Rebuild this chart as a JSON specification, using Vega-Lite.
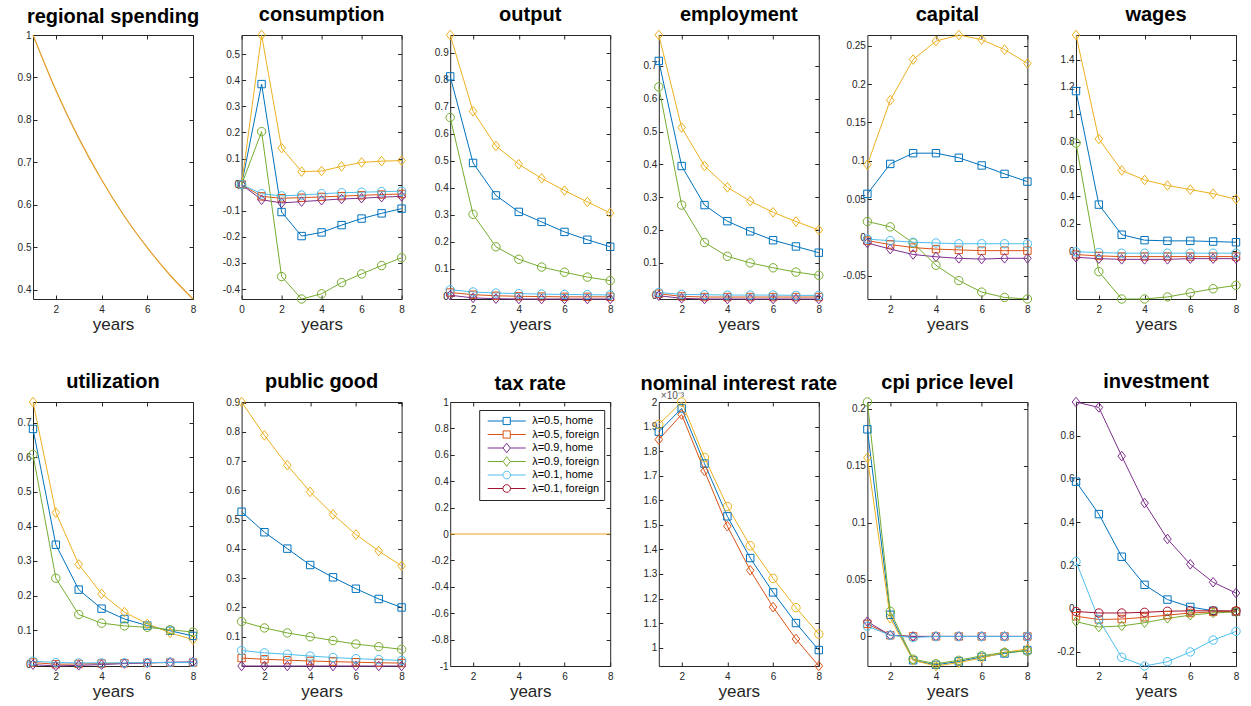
{
  "$schema": "https://vega.github.io/schema/vega-lite/v6.json",
  "background": "white",
  "padding": {"left": 16, "top": 4, "right": 5, "bottom": 5},
  "columns": 6,
  "spacing": {"row": 103, "column": 48.6},
  "bounds": "flush",
  "resolve": {"scale": {"color": "independent", "shape": "independent"}, "legend": {"color": "independent", "shape": "independent"}},
  "datasets": {
    "spending": [
      {"t": 1, "v": 1.0}, {"t": 2, "v": 0.87}, {"t": 3, "v": 0.757}, {"t": 4, "v": 0.659},
      {"t": 5, "v": 0.573}, {"t": 6, "v": 0.499}, {"t": 7, "v": 0.434}, {"t": 8, "v": 0.378}
    ],
    "consumption": [
      {"s": "λ=0.5, home", "t": 0, "v": 0}, {"s": "λ=0.5, home", "t": 1, "v": 0.385}, {"s": "λ=0.5, home", "t": 2, "v": -0.105}, {"s": "λ=0.5, home", "t": 3, "v": -0.197}, {"s": "λ=0.5, home", "t": 4, "v": -0.183}, {"s": "λ=0.5, home", "t": 5, "v": -0.155}, {"s": "λ=0.5, home", "t": 6, "v": -0.13}, {"s": "λ=0.5, home", "t": 7, "v": -0.11}, {"s": "λ=0.5, home", "t": 8, "v": -0.092},
      {"s": "λ=0.5, foreign", "t": 0, "v": 0}, {"s": "λ=0.5, foreign", "t": 1, "v": -0.045}, {"s": "λ=0.5, foreign", "t": 2, "v": -0.052}, {"s": "λ=0.5, foreign", "t": 3, "v": -0.05}, {"s": "λ=0.5, foreign", "t": 4, "v": -0.047}, {"s": "λ=0.5, foreign", "t": 5, "v": -0.044}, {"s": "λ=0.5, foreign", "t": 6, "v": -0.041}, {"s": "λ=0.5, foreign", "t": 7, "v": -0.038}, {"s": "λ=0.5, foreign", "t": 8, "v": -0.036},
      {"s": "λ=0.9, home", "t": 0, "v": 0}, {"s": "λ=0.9, home", "t": 1, "v": 0.573}, {"s": "λ=0.9, home", "t": 2, "v": 0.14}, {"s": "λ=0.9, home", "t": 3, "v": 0.05}, {"s": "λ=0.9, home", "t": 4, "v": 0.052}, {"s": "λ=0.9, home", "t": 5, "v": 0.07}, {"s": "λ=0.9, home", "t": 6, "v": 0.085}, {"s": "λ=0.9, home", "t": 7, "v": 0.09}, {"s": "λ=0.9, home", "t": 8, "v": 0.092},
      {"s": "λ=0.9, foreign", "t": 0, "v": 0}, {"s": "λ=0.9, foreign", "t": 1, "v": -0.058}, {"s": "λ=0.9, foreign", "t": 2, "v": -0.07}, {"s": "λ=0.9, foreign", "t": 3, "v": -0.065}, {"s": "λ=0.9, foreign", "t": 4, "v": -0.06}, {"s": "λ=0.9, foreign", "t": 5, "v": -0.055}, {"s": "λ=0.9, foreign", "t": 6, "v": -0.052}, {"s": "λ=0.9, foreign", "t": 7, "v": -0.048}, {"s": "λ=0.9, foreign", "t": 8, "v": -0.045},
      {"s": "λ=0.1, home", "t": 0, "v": 0}, {"s": "λ=0.1, home", "t": 1, "v": 0.203}, {"s": "λ=0.1, home", "t": 2, "v": -0.352}, {"s": "λ=0.1, home", "t": 3, "v": -0.438}, {"s": "λ=0.1, home", "t": 4, "v": -0.418}, {"s": "λ=0.1, home", "t": 5, "v": -0.375}, {"s": "λ=0.1, home", "t": 6, "v": -0.342}, {"s": "λ=0.1, home", "t": 7, "v": -0.31}, {"s": "λ=0.1, home", "t": 8, "v": -0.28},
      {"s": "λ=0.1, foreign", "t": 0, "v": 0}, {"s": "λ=0.1, foreign", "t": 1, "v": -0.035}, {"s": "λ=0.1, foreign", "t": 2, "v": -0.043}, {"s": "λ=0.1, foreign", "t": 3, "v": -0.04}, {"s": "λ=0.1, foreign", "t": 4, "v": -0.035}, {"s": "λ=0.1, foreign", "t": 5, "v": -0.031}, {"s": "λ=0.1, foreign", "t": 6, "v": -0.029}, {"s": "λ=0.1, foreign", "t": 7, "v": -0.027}, {"s": "λ=0.1, foreign", "t": 8, "v": -0.025}
    ],
    "output": [
      {"s": "λ=0.5, home", "t": 1, "v": 0.812}, {"s": "λ=0.5, home", "t": 2, "v": 0.492}, {"s": "λ=0.5, home", "t": 3, "v": 0.372}, {"s": "λ=0.5, home", "t": 4, "v": 0.311}, {"s": "λ=0.5, home", "t": 5, "v": 0.274}, {"s": "λ=0.5, home", "t": 6, "v": 0.237}, {"s": "λ=0.5, home", "t": 7, "v": 0.208}, {"s": "λ=0.5, home", "t": 8, "v": 0.182},
      {"s": "λ=0.5, foreign", "t": 1, "v": 0.013}, {"s": "λ=0.5, foreign", "t": 2, "v": 0.005}, {"s": "λ=0.5, foreign", "t": 3, "v": 0.001}, {"s": "λ=0.5, foreign", "t": 4, "v": -0.001}, {"s": "λ=0.5, foreign", "t": 5, "v": -0.002}, {"s": "λ=0.5, foreign", "t": 6, "v": -0.003}, {"s": "λ=0.5, foreign", "t": 7, "v": -0.003}, {"s": "λ=0.5, foreign", "t": 8, "v": -0.003},
      {"s": "λ=0.9, home", "t": 1, "v": 0.965}, {"s": "λ=0.9, home", "t": 2, "v": 0.683}, {"s": "λ=0.9, home", "t": 3, "v": 0.555}, {"s": "λ=0.9, home", "t": 4, "v": 0.487}, {"s": "λ=0.9, home", "t": 5, "v": 0.435}, {"s": "λ=0.9, home", "t": 6, "v": 0.39}, {"s": "λ=0.9, home", "t": 7, "v": 0.348}, {"s": "λ=0.9, home", "t": 8, "v": 0.307},
      {"s": "λ=0.9, foreign", "t": 1, "v": 0.003}, {"s": "λ=0.9, foreign", "t": 2, "v": -0.007}, {"s": "λ=0.9, foreign", "t": 3, "v": -0.01}, {"s": "λ=0.9, foreign", "t": 4, "v": -0.011}, {"s": "λ=0.9, foreign", "t": 5, "v": -0.011}, {"s": "λ=0.9, foreign", "t": 6, "v": -0.011}, {"s": "λ=0.9, foreign", "t": 7, "v": -0.011}, {"s": "λ=0.9, foreign", "t": 8, "v": -0.011},
      {"s": "λ=0.1, home", "t": 1, "v": 0.66}, {"s": "λ=0.1, home", "t": 2, "v": 0.302}, {"s": "λ=0.1, home", "t": 3, "v": 0.182}, {"s": "λ=0.1, home", "t": 4, "v": 0.136}, {"s": "λ=0.1, home", "t": 5, "v": 0.107}, {"s": "λ=0.1, home", "t": 6, "v": 0.088}, {"s": "λ=0.1, home", "t": 7, "v": 0.07}, {"s": "λ=0.1, home", "t": 8, "v": 0.057},
      {"s": "λ=0.1, foreign", "t": 1, "v": 0.023}, {"s": "λ=0.1, foreign", "t": 2, "v": 0.015}, {"s": "λ=0.1, foreign", "t": 3, "v": 0.011}, {"s": "λ=0.1, foreign", "t": 4, "v": 0.009}, {"s": "λ=0.1, foreign", "t": 5, "v": 0.007}, {"s": "λ=0.1, foreign", "t": 6, "v": 0.006}, {"s": "λ=0.1, foreign", "t": 7, "v": 0.005}, {"s": "λ=0.1, foreign", "t": 8, "v": 0.004}
    ],
    "employment": [
      {"s": "λ=0.5, home", "t": 1, "v": 0.715}, {"s": "λ=0.5, home", "t": 2, "v": 0.395}, {"s": "λ=0.5, home", "t": 3, "v": 0.276}, {"s": "λ=0.5, home", "t": 4, "v": 0.227}, {"s": "λ=0.5, home", "t": 5, "v": 0.196}, {"s": "λ=0.5, home", "t": 6, "v": 0.169}, {"s": "λ=0.5, home", "t": 7, "v": 0.15}, {"s": "λ=0.5, home", "t": 8, "v": 0.131},
      {"s": "λ=0.5, foreign", "t": 1, "v": 0.006}, {"s": "λ=0.5, foreign", "t": 2, "v": -0.002}, {"s": "λ=0.5, foreign", "t": 3, "v": -0.004}, {"s": "λ=0.5, foreign", "t": 4, "v": -0.004}, {"s": "λ=0.5, foreign", "t": 5, "v": -0.004}, {"s": "λ=0.5, foreign", "t": 6, "v": -0.004}, {"s": "λ=0.5, foreign", "t": 7, "v": -0.004}, {"s": "λ=0.5, foreign", "t": 8, "v": -0.004},
      {"s": "λ=0.9, home", "t": 1, "v": 0.794}, {"s": "λ=0.9, home", "t": 2, "v": 0.512}, {"s": "λ=0.9, home", "t": 3, "v": 0.395}, {"s": "λ=0.9, home", "t": 4, "v": 0.33}, {"s": "λ=0.9, home", "t": 5, "v": 0.288}, {"s": "λ=0.9, home", "t": 6, "v": 0.254}, {"s": "λ=0.9, home", "t": 7, "v": 0.226}, {"s": "λ=0.9, home", "t": 8, "v": 0.2},
      {"s": "λ=0.9, foreign", "t": 1, "v": 0.0}, {"s": "λ=0.9, foreign", "t": 2, "v": -0.008}, {"s": "λ=0.9, foreign", "t": 3, "v": -0.01}, {"s": "λ=0.9, foreign", "t": 4, "v": -0.01}, {"s": "λ=0.9, foreign", "t": 5, "v": -0.01}, {"s": "λ=0.9, foreign", "t": 6, "v": -0.01}, {"s": "λ=0.9, foreign", "t": 7, "v": -0.01}, {"s": "λ=0.9, foreign", "t": 8, "v": -0.01},
      {"s": "λ=0.1, home", "t": 1, "v": 0.636}, {"s": "λ=0.1, home", "t": 2, "v": 0.276}, {"s": "λ=0.1, home", "t": 3, "v": 0.162}, {"s": "λ=0.1, home", "t": 4, "v": 0.12}, {"s": "λ=0.1, home", "t": 5, "v": 0.1}, {"s": "λ=0.1, home", "t": 6, "v": 0.085}, {"s": "λ=0.1, home", "t": 7, "v": 0.072}, {"s": "λ=0.1, home", "t": 8, "v": 0.062},
      {"s": "λ=0.1, foreign", "t": 1, "v": 0.01}, {"s": "λ=0.1, foreign", "t": 2, "v": 0.004}, {"s": "λ=0.1, foreign", "t": 3, "v": 0.003}, {"s": "λ=0.1, foreign", "t": 4, "v": 0.002}, {"s": "λ=0.1, foreign", "t": 5, "v": 0.002}, {"s": "λ=0.1, foreign", "t": 6, "v": 0.002}, {"s": "λ=0.1, foreign", "t": 7, "v": 0.001}, {"s": "λ=0.1, foreign", "t": 8, "v": 0.001}
    ],
    "capital": [
      {"s": "λ=0.5, home", "t": 1, "v": 0.057}, {"s": "λ=0.5, home", "t": 2, "v": 0.096}, {"s": "λ=0.5, home", "t": 3, "v": 0.11}, {"s": "λ=0.5, home", "t": 4, "v": 0.11}, {"s": "λ=0.5, home", "t": 5, "v": 0.104}, {"s": "λ=0.5, home", "t": 6, "v": 0.094}, {"s": "λ=0.5, home", "t": 7, "v": 0.083}, {"s": "λ=0.5, home", "t": 8, "v": 0.073},
      {"s": "λ=0.5, foreign", "t": 1, "v": -0.004}, {"s": "λ=0.5, foreign", "t": 2, "v": -0.009}, {"s": "λ=0.5, foreign", "t": 3, "v": -0.013}, {"s": "λ=0.5, foreign", "t": 4, "v": -0.015}, {"s": "λ=0.5, foreign", "t": 5, "v": -0.016}, {"s": "λ=0.5, foreign", "t": 6, "v": -0.017}, {"s": "λ=0.5, foreign", "t": 7, "v": -0.017}, {"s": "λ=0.5, foreign", "t": 8, "v": -0.017},
      {"s": "λ=0.9, home", "t": 1, "v": 0.095}, {"s": "λ=0.9, home", "t": 2, "v": 0.179}, {"s": "λ=0.9, home", "t": 3, "v": 0.232}, {"s": "λ=0.9, home", "t": 4, "v": 0.256}, {"s": "λ=0.9, home", "t": 5, "v": 0.264}, {"s": "λ=0.9, home", "t": 6, "v": 0.258}, {"s": "λ=0.9, home", "t": 7, "v": 0.245}, {"s": "λ=0.9, home", "t": 8, "v": 0.227},
      {"s": "λ=0.9, foreign", "t": 1, "v": -0.007}, {"s": "λ=0.9, foreign", "t": 2, "v": -0.015}, {"s": "λ=0.9, foreign", "t": 3, "v": -0.022}, {"s": "λ=0.9, foreign", "t": 4, "v": -0.025}, {"s": "λ=0.9, foreign", "t": 5, "v": -0.027}, {"s": "λ=0.9, foreign", "t": 6, "v": -0.028}, {"s": "λ=0.9, foreign", "t": 7, "v": -0.027}, {"s": "λ=0.9, foreign", "t": 8, "v": -0.027},
      {"s": "λ=0.1, home", "t": 1, "v": 0.021}, {"s": "λ=0.1, home", "t": 2, "v": 0.014}, {"s": "λ=0.1, home", "t": 3, "v": -0.007}, {"s": "λ=0.1, home", "t": 4, "v": -0.036}, {"s": "λ=0.1, home", "t": 5, "v": -0.056}, {"s": "λ=0.1, home", "t": 6, "v": -0.071}, {"s": "λ=0.1, home", "t": 7, "v": -0.078}, {"s": "λ=0.1, home", "t": 8, "v": -0.08},
      {"s": "λ=0.1, foreign", "t": 1, "v": -0.002}, {"s": "λ=0.1, foreign", "t": 2, "v": -0.004}, {"s": "λ=0.1, foreign", "t": 3, "v": -0.006}, {"s": "λ=0.1, foreign", "t": 4, "v": -0.007}, {"s": "λ=0.1, foreign", "t": 5, "v": -0.008}, {"s": "λ=0.1, foreign", "t": 6, "v": -0.008}, {"s": "λ=0.1, foreign", "t": 7, "v": -0.008}, {"s": "λ=0.1, foreign", "t": 8, "v": -0.008}
    ],
    "wages": [
      {"s": "λ=0.5, home", "t": 1, "v": 1.17}, {"s": "λ=0.5, home", "t": 2, "v": 0.34}, {"s": "λ=0.5, home", "t": 3, "v": 0.12}, {"s": "λ=0.5, home", "t": 4, "v": 0.08}, {"s": "λ=0.5, home", "t": 5, "v": 0.075}, {"s": "λ=0.5, home", "t": 6, "v": 0.075}, {"s": "λ=0.5, home", "t": 7, "v": 0.07}, {"s": "λ=0.5, home", "t": 8, "v": 0.065},
      {"s": "λ=0.5, foreign", "t": 1, "v": -0.025}, {"s": "λ=0.5, foreign", "t": 2, "v": -0.035}, {"s": "λ=0.5, foreign", "t": 3, "v": -0.04}, {"s": "λ=0.5, foreign", "t": 4, "v": -0.04}, {"s": "λ=0.5, foreign", "t": 5, "v": -0.04}, {"s": "λ=0.5, foreign", "t": 6, "v": -0.04}, {"s": "λ=0.5, foreign", "t": 7, "v": -0.04}, {"s": "λ=0.5, foreign", "t": 8, "v": -0.04},
      {"s": "λ=0.9, home", "t": 1, "v": 1.58}, {"s": "λ=0.9, home", "t": 2, "v": 0.82}, {"s": "λ=0.9, home", "t": 3, "v": 0.59}, {"s": "λ=0.9, home", "t": 4, "v": 0.52}, {"s": "λ=0.9, home", "t": 5, "v": 0.48}, {"s": "λ=0.9, home", "t": 6, "v": 0.45}, {"s": "λ=0.9, home", "t": 7, "v": 0.42}, {"s": "λ=0.9, home", "t": 8, "v": 0.38},
      {"s": "λ=0.9, foreign", "t": 1, "v": -0.045}, {"s": "λ=0.9, foreign", "t": 2, "v": -0.055}, {"s": "λ=0.9, foreign", "t": 3, "v": -0.06}, {"s": "λ=0.9, foreign", "t": 4, "v": -0.06}, {"s": "λ=0.9, foreign", "t": 5, "v": -0.06}, {"s": "λ=0.9, foreign", "t": 6, "v": -0.055}, {"s": "λ=0.9, foreign", "t": 7, "v": -0.055}, {"s": "λ=0.9, foreign", "t": 8, "v": -0.055},
      {"s": "λ=0.1, home", "t": 1, "v": 0.79}, {"s": "λ=0.1, home", "t": 2, "v": -0.15}, {"s": "λ=0.1, home", "t": 3, "v": -0.35}, {"s": "λ=0.1, home", "t": 4, "v": -0.35}, {"s": "λ=0.1, home", "t": 5, "v": -0.335}, {"s": "λ=0.1, home", "t": 6, "v": -0.305}, {"s": "λ=0.1, home", "t": 7, "v": -0.275}, {"s": "λ=0.1, home", "t": 8, "v": -0.25},
      {"s": "λ=0.1, foreign", "t": 1, "v": -0.005}, {"s": "λ=0.1, foreign", "t": 2, "v": -0.01}, {"s": "λ=0.1, foreign", "t": 3, "v": -0.015}, {"s": "λ=0.1, foreign", "t": 4, "v": -0.015}, {"s": "λ=0.1, foreign", "t": 5, "v": -0.015}, {"s": "λ=0.1, foreign", "t": 6, "v": -0.015}, {"s": "λ=0.1, foreign", "t": 7, "v": -0.015}, {"s": "λ=0.1, foreign", "t": 8, "v": -0.015}
    ],
    "utilization": [
      {"s": "λ=0.5, home", "t": 1, "v": 0.682}, {"s": "λ=0.5, home", "t": 2, "v": 0.347}, {"s": "λ=0.5, home", "t": 3, "v": 0.217}, {"s": "λ=0.5, home", "t": 4, "v": 0.162}, {"s": "λ=0.5, home", "t": 5, "v": 0.132}, {"s": "λ=0.5, home", "t": 6, "v": 0.113}, {"s": "λ=0.5, home", "t": 7, "v": 0.098}, {"s": "λ=0.5, home", "t": 8, "v": 0.083},
      {"s": "λ=0.5, foreign", "t": 1, "v": 0.006}, {"s": "λ=0.5, foreign", "t": 2, "v": 0.001}, {"s": "λ=0.5, foreign", "t": 3, "v": 0.002}, {"s": "λ=0.5, foreign", "t": 4, "v": 0.003}, {"s": "λ=0.5, foreign", "t": 5, "v": 0.004}, {"s": "λ=0.5, foreign", "t": 6, "v": 0.005}, {"s": "λ=0.5, foreign", "t": 7, "v": 0.006}, {"s": "λ=0.5, foreign", "t": 8, "v": 0.006},
      {"s": "λ=0.9, home", "t": 1, "v": 0.76}, {"s": "λ=0.9, home", "t": 2, "v": 0.44}, {"s": "λ=0.9, home", "t": 3, "v": 0.29}, {"s": "λ=0.9, home", "t": 4, "v": 0.205}, {"s": "λ=0.9, home", "t": 5, "v": 0.152}, {"s": "λ=0.9, home", "t": 6, "v": 0.118}, {"s": "λ=0.9, home", "t": 7, "v": 0.092}, {"s": "λ=0.9, home", "t": 8, "v": 0.072},
      {"s": "λ=0.9, foreign", "t": 1, "v": 0.0}, {"s": "λ=0.9, foreign", "t": 2, "v": -0.004}, {"s": "λ=0.9, foreign", "t": 3, "v": -0.002}, {"s": "λ=0.9, foreign", "t": 4, "v": 0.0}, {"s": "λ=0.9, foreign", "t": 5, "v": 0.003}, {"s": "λ=0.9, foreign", "t": 6, "v": 0.005}, {"s": "λ=0.9, foreign", "t": 7, "v": 0.007}, {"s": "λ=0.9, foreign", "t": 8, "v": 0.008},
      {"s": "λ=0.1, home", "t": 1, "v": 0.608}, {"s": "λ=0.1, home", "t": 2, "v": 0.25}, {"s": "λ=0.1, home", "t": 3, "v": 0.145}, {"s": "λ=0.1, home", "t": 4, "v": 0.12}, {"s": "λ=0.1, home", "t": 5, "v": 0.112}, {"s": "λ=0.1, home", "t": 6, "v": 0.108}, {"s": "λ=0.1, home", "t": 7, "v": 0.101}, {"s": "λ=0.1, home", "t": 8, "v": 0.094},
      {"s": "λ=0.1, foreign", "t": 1, "v": 0.01}, {"s": "λ=0.1, foreign", "t": 2, "v": 0.006}, {"s": "λ=0.1, foreign", "t": 3, "v": 0.005}, {"s": "λ=0.1, foreign", "t": 4, "v": 0.005}, {"s": "λ=0.1, foreign", "t": 5, "v": 0.005}, {"s": "λ=0.1, foreign", "t": 6, "v": 0.006}, {"s": "λ=0.1, foreign", "t": 7, "v": 0.006}, {"s": "λ=0.1, foreign", "t": 8, "v": 0.006}
    ],
    "public": [
      {"s": "λ=0.5, home", "t": 1, "v": 0.527}, {"s": "λ=0.5, home", "t": 2, "v": 0.457}, {"s": "λ=0.5, home", "t": 3, "v": 0.401}, {"s": "λ=0.5, home", "t": 4, "v": 0.345}, {"s": "λ=0.5, home", "t": 5, "v": 0.303}, {"s": "λ=0.5, home", "t": 6, "v": 0.264}, {"s": "λ=0.5, home", "t": 7, "v": 0.229}, {"s": "λ=0.5, home", "t": 8, "v": 0.2},
      {"s": "λ=0.5, foreign", "t": 1, "v": 0.027}, {"s": "λ=0.5, foreign", "t": 2, "v": 0.023}, {"s": "λ=0.5, foreign", "t": 3, "v": 0.02}, {"s": "λ=0.5, foreign", "t": 4, "v": 0.017}, {"s": "λ=0.5, foreign", "t": 5, "v": 0.015}, {"s": "λ=0.5, foreign", "t": 6, "v": 0.013}, {"s": "λ=0.5, foreign", "t": 7, "v": 0.011}, {"s": "λ=0.5, foreign", "t": 8, "v": 0.01},
      {"s": "λ=0.9, home", "t": 1, "v": 0.902}, {"s": "λ=0.9, home", "t": 2, "v": 0.788}, {"s": "λ=0.9, home", "t": 3, "v": 0.686}, {"s": "λ=0.9, home", "t": 4, "v": 0.595}, {"s": "λ=0.9, home", "t": 5, "v": 0.518}, {"s": "λ=0.9, home", "t": 6, "v": 0.449}, {"s": "λ=0.9, home", "t": 7, "v": 0.393}, {"s": "λ=0.9, home", "t": 8, "v": 0.342},
      {"s": "λ=0.9, foreign", "t": 1, "v": 0.0}, {"s": "λ=0.9, foreign", "t": 2, "v": 0.0}, {"s": "λ=0.9, foreign", "t": 3, "v": 0.0}, {"s": "λ=0.9, foreign", "t": 4, "v": 0.0}, {"s": "λ=0.9, foreign", "t": 5, "v": 0.0}, {"s": "λ=0.9, foreign", "t": 6, "v": 0.0}, {"s": "λ=0.9, foreign", "t": 7, "v": 0.0}, {"s": "λ=0.9, foreign", "t": 8, "v": 0.0},
      {"s": "λ=0.1, home", "t": 1, "v": 0.152}, {"s": "λ=0.1, home", "t": 2, "v": 0.13}, {"s": "λ=0.1, home", "t": 3, "v": 0.113}, {"s": "λ=0.1, home", "t": 4, "v": 0.1}, {"s": "λ=0.1, home", "t": 5, "v": 0.087}, {"s": "λ=0.1, home", "t": 6, "v": 0.075}, {"s": "λ=0.1, home", "t": 7, "v": 0.066}, {"s": "λ=0.1, home", "t": 8, "v": 0.057},
      {"s": "λ=0.1, foreign", "t": 1, "v": 0.053}, {"s": "λ=0.1, foreign", "t": 2, "v": 0.045}, {"s": "λ=0.1, foreign", "t": 3, "v": 0.04}, {"s": "λ=0.1, foreign", "t": 4, "v": 0.034}, {"s": "λ=0.1, foreign", "t": 5, "v": 0.029}, {"s": "λ=0.1, foreign", "t": 6, "v": 0.025}, {"s": "λ=0.1, foreign", "t": 7, "v": 0.022}, {"s": "λ=0.1, foreign", "t": 8, "v": 0.019}
    ],
    "tax": [
      {"t": 1, "v": 0}, {"t": 2, "v": 0}, {"t": 3, "v": 0}, {"t": 4, "v": 0},
      {"t": 5, "v": 0}, {"t": 6, "v": 0}, {"t": 7, "v": 0}, {"t": 8, "v": 0}
    ],
    "interest": [
      {"s": "λ=0.5, home", "t": 1, "v": 1.88}, {"s": "λ=0.5, home", "t": 2, "v": 1.975}, {"s": "λ=0.5, home", "t": 3, "v": 1.75}, {"s": "λ=0.5, home", "t": 4, "v": 1.535}, {"s": "λ=0.5, home", "t": 5, "v": 1.365}, {"s": "λ=0.5, home", "t": 6, "v": 1.225}, {"s": "λ=0.5, home", "t": 7, "v": 1.1}, {"s": "λ=0.5, home", "t": 8, "v": 0.99},
      {"s": "λ=0.9, home", "t": 1, "v": 1.848}, {"s": "λ=0.9, home", "t": 2, "v": 1.95}, {"s": "λ=0.9, home", "t": 3, "v": 1.72}, {"s": "λ=0.9, home", "t": 4, "v": 1.495}, {"s": "λ=0.9, home", "t": 5, "v": 1.315}, {"s": "λ=0.9, home", "t": 6, "v": 1.165}, {"s": "λ=0.9, home", "t": 7, "v": 1.035}, {"s": "λ=0.9, home", "t": 8, "v": 0.925},
      {"s": "λ=0.1, home", "t": 1, "v": 1.91}, {"s": "λ=0.1, home", "t": 2, "v": 2.001}, {"s": "λ=0.1, home", "t": 3, "v": 1.775}, {"s": "λ=0.1, home", "t": 4, "v": 1.575}, {"s": "λ=0.1, home", "t": 5, "v": 1.415}, {"s": "λ=0.1, home", "t": 6, "v": 1.282}, {"s": "λ=0.1, home", "t": 7, "v": 1.163}, {"s": "λ=0.1, home", "t": 8, "v": 1.055}
    ],
    "cpi": [
      {"s": "λ=0.5, home", "t": 1, "v": 0.182}, {"s": "λ=0.5, home", "t": 2, "v": 0.019}, {"s": "λ=0.5, home", "t": 3, "v": -0.021}, {"s": "λ=0.5, home", "t": 4, "v": -0.025}, {"s": "λ=0.5, home", "t": 5, "v": -0.022}, {"s": "λ=0.5, home", "t": 6, "v": -0.018}, {"s": "λ=0.5, home", "t": 7, "v": -0.015}, {"s": "λ=0.5, home", "t": 8, "v": -0.012},
      {"s": "λ=0.5, foreign", "t": 1, "v": 0.011}, {"s": "λ=0.5, foreign", "t": 2, "v": 0.001}, {"s": "λ=0.5, foreign", "t": 3, "v": 0.0}, {"s": "λ=0.5, foreign", "t": 4, "v": 0.0}, {"s": "λ=0.5, foreign", "t": 5, "v": 0.0}, {"s": "λ=0.5, foreign", "t": 6, "v": 0.0}, {"s": "λ=0.5, foreign", "t": 7, "v": 0.0}, {"s": "λ=0.5, foreign", "t": 8, "v": 0.0},
      {"s": "λ=0.9, home", "t": 1, "v": 0.157}, {"s": "λ=0.9, home", "t": 2, "v": 0.016}, {"s": "λ=0.9, home", "t": 3, "v": -0.021}, {"s": "λ=0.9, home", "t": 4, "v": -0.026}, {"s": "λ=0.9, home", "t": 5, "v": -0.023}, {"s": "λ=0.9, home", "t": 6, "v": -0.019}, {"s": "λ=0.9, home", "t": 7, "v": -0.014}, {"s": "λ=0.9, home", "t": 8, "v": -0.011},
      {"s": "λ=0.9, foreign", "t": 1, "v": 0.013}, {"s": "λ=0.9, foreign", "t": 2, "v": 0.001}, {"s": "λ=0.9, foreign", "t": 3, "v": 0.0}, {"s": "λ=0.9, foreign", "t": 4, "v": 0.0}, {"s": "λ=0.9, foreign", "t": 5, "v": 0.0}, {"s": "λ=0.9, foreign", "t": 6, "v": 0.0}, {"s": "λ=0.9, foreign", "t": 7, "v": 0.0}, {"s": "λ=0.9, foreign", "t": 8, "v": 0.0},
      {"s": "λ=0.1, home", "t": 1, "v": 0.206}, {"s": "λ=0.1, home", "t": 2, "v": 0.022}, {"s": "λ=0.1, home", "t": 3, "v": -0.02}, {"s": "λ=0.1, home", "t": 4, "v": -0.024}, {"s": "λ=0.1, home", "t": 5, "v": -0.021}, {"s": "λ=0.1, home", "t": 6, "v": -0.017}, {"s": "λ=0.1, home", "t": 7, "v": -0.014}, {"s": "λ=0.1, home", "t": 8, "v": -0.013},
      {"s": "λ=0.1, foreign", "t": 1, "v": 0.009}, {"s": "λ=0.1, foreign", "t": 2, "v": 0.001}, {"s": "λ=0.1, foreign", "t": 3, "v": -0.001}, {"s": "λ=0.1, foreign", "t": 4, "v": 0.0}, {"s": "λ=0.1, foreign", "t": 5, "v": 0.0}, {"s": "λ=0.1, foreign", "t": 6, "v": 0.0}, {"s": "λ=0.1, foreign", "t": 7, "v": 0.0}, {"s": "λ=0.1, foreign", "t": 8, "v": 0.0}
    ],
    "investment": [
      {"s": "λ=0.5, home", "t": 1, "v": 0.587}, {"s": "λ=0.5, home", "t": 2, "v": 0.437}, {"s": "λ=0.5, home", "t": 3, "v": 0.24}, {"s": "λ=0.5, home", "t": 4, "v": 0.11}, {"s": "λ=0.5, home", "t": 5, "v": 0.042}, {"s": "λ=0.5, home", "t": 6, "v": 0.008}, {"s": "λ=0.5, home", "t": 7, "v": -0.01}, {"s": "λ=0.5, home", "t": 8, "v": -0.015},
      {"s": "λ=0.5, foreign", "t": 1, "v": -0.035}, {"s": "λ=0.5, foreign", "t": 2, "v": -0.05}, {"s": "λ=0.5, foreign", "t": 3, "v": -0.048}, {"s": "λ=0.5, foreign", "t": 4, "v": -0.04}, {"s": "λ=0.5, foreign", "t": 5, "v": -0.03}, {"s": "λ=0.5, foreign", "t": 6, "v": -0.02}, {"s": "λ=0.5, foreign", "t": 7, "v": -0.015}, {"s": "λ=0.5, foreign", "t": 8, "v": -0.013},
      {"s": "λ=0.9, home", "t": 1, "v": 0.955}, {"s": "λ=0.9, home", "t": 2, "v": 0.93}, {"s": "λ=0.9, home", "t": 3, "v": 0.705}, {"s": "λ=0.9, home", "t": 4, "v": 0.488}, {"s": "λ=0.9, home", "t": 5, "v": 0.322}, {"s": "λ=0.9, home", "t": 6, "v": 0.205}, {"s": "λ=0.9, home", "t": 7, "v": 0.122}, {"s": "λ=0.9, home", "t": 8, "v": 0.072},
      {"s": "λ=0.9, foreign", "t": 1, "v": -0.06}, {"s": "λ=0.9, foreign", "t": 2, "v": -0.085}, {"s": "λ=0.9, foreign", "t": 3, "v": -0.08}, {"s": "λ=0.9, foreign", "t": 4, "v": -0.065}, {"s": "λ=0.9, foreign", "t": 5, "v": -0.045}, {"s": "λ=0.9, foreign", "t": 6, "v": -0.03}, {"s": "λ=0.9, foreign", "t": 7, "v": -0.02}, {"s": "λ=0.9, foreign", "t": 8, "v": -0.015},
      {"s": "λ=0.1, home", "t": 1, "v": 0.218}, {"s": "λ=0.1, home", "t": 2, "v": -0.05}, {"s": "λ=0.1, home", "t": 3, "v": -0.225}, {"s": "λ=0.1, home", "t": 4, "v": -0.265}, {"s": "λ=0.1, home", "t": 5, "v": -0.245}, {"s": "λ=0.1, home", "t": 6, "v": -0.2}, {"s": "λ=0.1, home", "t": 7, "v": -0.145}, {"s": "λ=0.1, home", "t": 8, "v": -0.105},
      {"s": "λ=0.1, foreign", "t": 1, "v": -0.013}, {"s": "λ=0.1, foreign", "t": 2, "v": -0.02}, {"s": "λ=0.1, foreign", "t": 3, "v": -0.02}, {"s": "λ=0.1, foreign", "t": 4, "v": -0.017}, {"s": "λ=0.1, foreign", "t": 5, "v": -0.012}, {"s": "λ=0.1, foreign", "t": 6, "v": -0.01}, {"s": "λ=0.1, foreign", "t": 7, "v": -0.01}, {"s": "λ=0.1, foreign", "t": 8, "v": -0.01}
    ]
  },
  "concat": [
    {
      "title": "regional spending", "width": 160, "height": 264, "data": {"name": "spending"},
      "layer": [
        {"mark": {"type": "line", "color": "#E0991F", "strokeWidth": 1.2, "interpolate": "monotone"},
         "encoding": {
           "x": {"field": "t", "type": "quantitative", "scale": {"domain": [1, 8], "nice": false, "zero": false}, "axis": {"values": [2, 4, 6, 8], "title": "years"}},
           "y": {"field": "v", "type": "quantitative", "scale": {"domain": [0.378, 1], "nice": false, "zero": false}, "axis": {"values": [0.4, 0.5, 0.6, 0.7, 0.8, 0.9, 1], "title": null, "labelExpr": "replace(format(datum.value, '~g'), '\u2212', '-')"}}}},
        {"mark": {"type": "point", "opacity": 0},
         "encoding": {
           "x": {"field": "t", "type": "quantitative", "axis": {"orient": "top", "values": [2, 4, 6, 8], "labels": false, "title": null}},
           "y": {"field": "v", "type": "quantitative", "axis": {"orient": "right", "values": [0.4, 0.5, 0.6, 0.7, 0.8, 0.9, 1], "labels": false, "title": null}}}}
      ],
      "resolve": {"axis": {"x": "independent", "y": "independent"}}
    },
    {
      "title": "consumption", "width": 160, "height": 264, "data": {"name": "consumption"},
      "layer": [
        {"mark": {"type": "line", "strokeWidth": 1},
         "encoding": {
           "x": {"field": "t", "type": "quantitative", "scale": {"domain": [0, 8], "nice": false, "zero": false}, "axis": {"values": [0, 2, 4, 6, 8], "title": "years"}},
           "y": {"field": "v", "type": "quantitative", "scale": {"domain": [-0.438, 0.573], "nice": false, "zero": false}, "axis": {"values": [-0.4, -0.3, -0.2, -0.1, 0, 0.1, 0.2, 0.3, 0.4, 0.5], "title": null, "labelExpr": "replace(format(datum.value, '~g'), '\u2212', '-')"}},
           "color": {"field": "s", "type": "nominal", "scale": {"domain": ["λ=0.5, home", "λ=0.5, foreign", "λ=0.9, home", "λ=0.9, foreign", "λ=0.1, home", "λ=0.1, foreign"], "range": ["#0072BD", "#D95319", "#EDB120", "#7E2F8E", "#77AC30", "#4DBEEE"]}, "legend": null}}},
        {"mark": {"type": "point", "filled": false, "size": 100, "strokeWidth": 1, "opacity": 1},
         "encoding": {
           "x": {"field": "t", "type": "quantitative", "axis": {"orient": "top", "values": [0, 2, 4, 6, 8], "labels": false, "title": null}},
           "y": {"field": "v", "type": "quantitative", "axis": {"orient": "right", "values": [-0.4, -0.3, -0.2, -0.1, 0, 0.1, 0.2, 0.3, 0.4, 0.5], "labels": false, "title": null}},
           "color": {"field": "s", "type": "nominal", "legend": null},
           "shape": {"field": "s", "type": "nominal", "scale": {"domain": ["λ=0.5, home", "λ=0.5, foreign", "λ=0.9, home", "λ=0.9, foreign", "λ=0.1, home", "λ=0.1, foreign"], "range": ["M-0.74,-0.74H0.74V0.74H-0.74Z", "M-0.74,-0.74H0.74V0.74H-0.74Z", "M0,-0.96L0.76,0L0,0.96L-0.76,0Z", "M0,-0.96L0.76,0L0,0.96L-0.76,0Z", "M0.84,0A0.84,0.84 0 1,1 -0.84,0A0.84,0.84 0 1,1 0.84,0Z", "M0.84,0A0.84,0.84 0 1,1 -0.84,0A0.84,0.84 0 1,1 0.84,0Z"]}, "legend": null}}}
      ],
      "resolve": {"axis": {"x": "independent", "y": "independent"}}
    },
    {
      "title": "output", "width": 160, "height": 264, "data": {"name": "output"},
      "layer": [
        {"mark": {"type": "line", "strokeWidth": 1},
         "encoding": {
           "x": {"field": "t", "type": "quantitative", "scale": {"domain": [1, 8], "nice": false, "zero": false}, "axis": {"values": [2, 4, 6, 8], "title": "years"}},
           "y": {"field": "v", "type": "quantitative", "scale": {"domain": [-0.011, 0.965], "nice": false, "zero": false}, "axis": {"values": [0, 0.1, 0.2, 0.3, 0.4, 0.5, 0.6, 0.7, 0.8, 0.9], "title": null, "labelExpr": "replace(format(datum.value, '~g'), '\u2212', '-')"}},
           "color": {"field": "s", "type": "nominal", "scale": {"domain": ["λ=0.5, home", "λ=0.5, foreign", "λ=0.9, home", "λ=0.9, foreign", "λ=0.1, home", "λ=0.1, foreign"], "range": ["#0072BD", "#D95319", "#EDB120", "#7E2F8E", "#77AC30", "#4DBEEE"]}, "legend": null}}},
        {"mark": {"type": "point", "filled": false, "size": 100, "strokeWidth": 1, "opacity": 1},
         "encoding": {
           "x": {"field": "t", "type": "quantitative", "axis": {"orient": "top", "values": [2, 4, 6, 8], "labels": false, "title": null}},
           "y": {"field": "v", "type": "quantitative", "axis": {"orient": "right", "values": [0, 0.1, 0.2, 0.3, 0.4, 0.5, 0.6, 0.7, 0.8, 0.9], "labels": false, "title": null}},
           "color": {"field": "s", "type": "nominal", "legend": null},
           "shape": {"field": "s", "type": "nominal", "scale": {"domain": ["λ=0.5, home", "λ=0.5, foreign", "λ=0.9, home", "λ=0.9, foreign", "λ=0.1, home", "λ=0.1, foreign"], "range": ["M-0.74,-0.74H0.74V0.74H-0.74Z", "M-0.74,-0.74H0.74V0.74H-0.74Z", "M0,-0.96L0.76,0L0,0.96L-0.76,0Z", "M0,-0.96L0.76,0L0,0.96L-0.76,0Z", "M0.84,0A0.84,0.84 0 1,1 -0.84,0A0.84,0.84 0 1,1 0.84,0Z", "M0.84,0A0.84,0.84 0 1,1 -0.84,0A0.84,0.84 0 1,1 0.84,0Z"]}, "legend": null}}}
      ],
      "resolve": {"axis": {"x": "independent", "y": "independent"}}
    },
    {
      "title": "employment", "width": 160, "height": 264, "data": {"name": "employment"},
      "layer": [
        {"mark": {"type": "line", "strokeWidth": 1},
         "encoding": {
           "x": {"field": "t", "type": "quantitative", "scale": {"domain": [1, 8], "nice": false, "zero": false}, "axis": {"values": [2, 4, 6, 8], "title": "years"}},
           "y": {"field": "v", "type": "quantitative", "scale": {"domain": [-0.01, 0.794], "nice": false, "zero": false}, "axis": {"values": [0, 0.1, 0.2, 0.3, 0.4, 0.5, 0.6, 0.7], "title": null, "labelExpr": "replace(format(datum.value, '~g'), '\u2212', '-')"}},
           "color": {"field": "s", "type": "nominal", "scale": {"domain": ["λ=0.5, home", "λ=0.5, foreign", "λ=0.9, home", "λ=0.9, foreign", "λ=0.1, home", "λ=0.1, foreign"], "range": ["#0072BD", "#D95319", "#EDB120", "#7E2F8E", "#77AC30", "#4DBEEE"]}, "legend": null}}},
        {"mark": {"type": "point", "filled": false, "size": 100, "strokeWidth": 1, "opacity": 1},
         "encoding": {
           "x": {"field": "t", "type": "quantitative", "axis": {"orient": "top", "values": [2, 4, 6, 8], "labels": false, "title": null}},
           "y": {"field": "v", "type": "quantitative", "axis": {"orient": "right", "values": [0, 0.1, 0.2, 0.3, 0.4, 0.5, 0.6, 0.7], "labels": false, "title": null}},
           "color": {"field": "s", "type": "nominal", "legend": null},
           "shape": {"field": "s", "type": "nominal", "scale": {"domain": ["λ=0.5, home", "λ=0.5, foreign", "λ=0.9, home", "λ=0.9, foreign", "λ=0.1, home", "λ=0.1, foreign"], "range": ["M-0.74,-0.74H0.74V0.74H-0.74Z", "M-0.74,-0.74H0.74V0.74H-0.74Z", "M0,-0.96L0.76,0L0,0.96L-0.76,0Z", "M0,-0.96L0.76,0L0,0.96L-0.76,0Z", "M0.84,0A0.84,0.84 0 1,1 -0.84,0A0.84,0.84 0 1,1 0.84,0Z", "M0.84,0A0.84,0.84 0 1,1 -0.84,0A0.84,0.84 0 1,1 0.84,0Z"]}, "legend": null}}}
      ],
      "resolve": {"axis": {"x": "independent", "y": "independent"}}
    },
    {
      "title": "capital", "width": 160, "height": 264, "data": {"name": "capital"},
      "layer": [
        {"mark": {"type": "line", "strokeWidth": 1},
         "encoding": {
           "x": {"field": "t", "type": "quantitative", "scale": {"domain": [1, 8], "nice": false, "zero": false}, "axis": {"values": [2, 4, 6, 8], "title": "years"}},
           "y": {"field": "v", "type": "quantitative", "scale": {"domain": [-0.08, 0.264], "nice": false, "zero": false}, "axis": {"values": [-0.05, 0, 0.05, 0.1, 0.15, 0.2, 0.25], "title": null, "labelExpr": "replace(format(datum.value, '~g'), '\u2212', '-')"}},
           "color": {"field": "s", "type": "nominal", "scale": {"domain": ["λ=0.5, home", "λ=0.5, foreign", "λ=0.9, home", "λ=0.9, foreign", "λ=0.1, home", "λ=0.1, foreign"], "range": ["#0072BD", "#D95319", "#EDB120", "#7E2F8E", "#77AC30", "#4DBEEE"]}, "legend": null}}},
        {"mark": {"type": "point", "filled": false, "size": 100, "strokeWidth": 1, "opacity": 1},
         "encoding": {
           "x": {"field": "t", "type": "quantitative", "axis": {"orient": "top", "values": [2, 4, 6, 8], "labels": false, "title": null}},
           "y": {"field": "v", "type": "quantitative", "axis": {"orient": "right", "values": [-0.05, 0, 0.05, 0.1, 0.15, 0.2, 0.25], "labels": false, "title": null}},
           "color": {"field": "s", "type": "nominal", "legend": null},
           "shape": {"field": "s", "type": "nominal", "scale": {"domain": ["λ=0.5, home", "λ=0.5, foreign", "λ=0.9, home", "λ=0.9, foreign", "λ=0.1, home", "λ=0.1, foreign"], "range": ["M-0.74,-0.74H0.74V0.74H-0.74Z", "M-0.74,-0.74H0.74V0.74H-0.74Z", "M0,-0.96L0.76,0L0,0.96L-0.76,0Z", "M0,-0.96L0.76,0L0,0.96L-0.76,0Z", "M0.84,0A0.84,0.84 0 1,1 -0.84,0A0.84,0.84 0 1,1 0.84,0Z", "M0.84,0A0.84,0.84 0 1,1 -0.84,0A0.84,0.84 0 1,1 0.84,0Z"]}, "legend": null}}}
      ],
      "resolve": {"axis": {"x": "independent", "y": "independent"}}
    },
    {
      "title": "wages", "width": 160, "height": 264, "data": {"name": "wages"},
      "layer": [
        {"mark": {"type": "line", "strokeWidth": 1},
         "encoding": {
           "x": {"field": "t", "type": "quantitative", "scale": {"domain": [1, 8], "nice": false, "zero": false}, "axis": {"values": [2, 4, 6, 8], "title": "years"}},
           "y": {"field": "v", "type": "quantitative", "scale": {"domain": [-0.35, 1.58], "nice": false, "zero": false}, "axis": {"values": [0, 0.2, 0.4, 0.6, 0.8, 1, 1.2, 1.4], "title": null, "labelExpr": "replace(format(datum.value, '~g'), '\u2212', '-')"}},
           "color": {"field": "s", "type": "nominal", "scale": {"domain": ["λ=0.5, home", "λ=0.5, foreign", "λ=0.9, home", "λ=0.9, foreign", "λ=0.1, home", "λ=0.1, foreign"], "range": ["#0072BD", "#D95319", "#EDB120", "#7E2F8E", "#77AC30", "#4DBEEE"]}, "legend": null}}},
        {"mark": {"type": "point", "filled": false, "size": 100, "strokeWidth": 1, "opacity": 1},
         "encoding": {
           "x": {"field": "t", "type": "quantitative", "axis": {"orient": "top", "values": [2, 4, 6, 8], "labels": false, "title": null}},
           "y": {"field": "v", "type": "quantitative", "axis": {"orient": "right", "values": [0, 0.2, 0.4, 0.6, 0.8, 1, 1.2, 1.4], "labels": false, "title": null}},
           "color": {"field": "s", "type": "nominal", "legend": null},
           "shape": {"field": "s", "type": "nominal", "scale": {"domain": ["λ=0.5, home", "λ=0.5, foreign", "λ=0.9, home", "λ=0.9, foreign", "λ=0.1, home", "λ=0.1, foreign"], "range": ["M-0.74,-0.74H0.74V0.74H-0.74Z", "M-0.74,-0.74H0.74V0.74H-0.74Z", "M0,-0.96L0.76,0L0,0.96L-0.76,0Z", "M0,-0.96L0.76,0L0,0.96L-0.76,0Z", "M0.84,0A0.84,0.84 0 1,1 -0.84,0A0.84,0.84 0 1,1 0.84,0Z", "M0.84,0A0.84,0.84 0 1,1 -0.84,0A0.84,0.84 0 1,1 0.84,0Z"]}, "legend": null}}}
      ],
      "resolve": {"axis": {"x": "independent", "y": "independent"}}
    },
    {
      "title": "utilization", "width": 160, "height": 264, "data": {"name": "utilization"},
      "layer": [
        {"mark": {"type": "line", "strokeWidth": 1},
         "encoding": {
           "x": {"field": "t", "type": "quantitative", "scale": {"domain": [1, 8], "nice": false, "zero": false}, "axis": {"values": [2, 4, 6, 8], "title": "years"}},
           "y": {"field": "v", "type": "quantitative", "scale": {"domain": [-0.004, 0.76], "nice": false, "zero": false}, "axis": {"values": [0, 0.1, 0.2, 0.3, 0.4, 0.5, 0.6, 0.7], "title": null, "labelExpr": "replace(format(datum.value, '~g'), '\u2212', '-')"}},
           "color": {"field": "s", "type": "nominal", "scale": {"domain": ["λ=0.5, home", "λ=0.5, foreign", "λ=0.9, home", "λ=0.9, foreign", "λ=0.1, home", "λ=0.1, foreign"], "range": ["#0072BD", "#D95319", "#EDB120", "#7E2F8E", "#77AC30", "#4DBEEE"]}, "legend": null}}},
        {"mark": {"type": "point", "filled": false, "size": 100, "strokeWidth": 1, "opacity": 1},
         "encoding": {
           "x": {"field": "t", "type": "quantitative", "axis": {"orient": "top", "values": [2, 4, 6, 8], "labels": false, "title": null}},
           "y": {"field": "v", "type": "quantitative", "axis": {"orient": "right", "values": [0, 0.1, 0.2, 0.3, 0.4, 0.5, 0.6, 0.7], "labels": false, "title": null}},
           "color": {"field": "s", "type": "nominal", "legend": null},
           "shape": {"field": "s", "type": "nominal", "scale": {"domain": ["λ=0.5, home", "λ=0.5, foreign", "λ=0.9, home", "λ=0.9, foreign", "λ=0.1, home", "λ=0.1, foreign"], "range": ["M-0.74,-0.74H0.74V0.74H-0.74Z", "M-0.74,-0.74H0.74V0.74H-0.74Z", "M0,-0.96L0.76,0L0,0.96L-0.76,0Z", "M0,-0.96L0.76,0L0,0.96L-0.76,0Z", "M0.84,0A0.84,0.84 0 1,1 -0.84,0A0.84,0.84 0 1,1 0.84,0Z", "M0.84,0A0.84,0.84 0 1,1 -0.84,0A0.84,0.84 0 1,1 0.84,0Z"]}, "legend": null}}}
      ],
      "resolve": {"axis": {"x": "independent", "y": "independent"}}
    },
    {
      "title": "public good", "width": 160, "height": 264, "data": {"name": "public"},
      "layer": [
        {"mark": {"type": "line", "strokeWidth": 1},
         "encoding": {
           "x": {"field": "t", "type": "quantitative", "scale": {"domain": [1, 8], "nice": false, "zero": false}, "axis": {"values": [2, 4, 6, 8], "title": "years"}},
           "y": {"field": "v", "type": "quantitative", "scale": {"domain": [0, 0.902], "nice": false, "zero": false}, "axis": {"values": [0.1, 0.2, 0.3, 0.4, 0.5, 0.6, 0.7, 0.8, 0.9], "title": null, "labelExpr": "replace(format(datum.value, '~g'), '\u2212', '-')"}},
           "color": {"field": "s", "type": "nominal", "scale": {"domain": ["λ=0.5, home", "λ=0.5, foreign", "λ=0.9, home", "λ=0.9, foreign", "λ=0.1, home", "λ=0.1, foreign"], "range": ["#0072BD", "#D95319", "#EDB120", "#7E2F8E", "#77AC30", "#4DBEEE"]}, "legend": null}}},
        {"mark": {"type": "point", "filled": false, "size": 100, "strokeWidth": 1, "opacity": 1},
         "encoding": {
           "x": {"field": "t", "type": "quantitative", "axis": {"orient": "top", "values": [2, 4, 6, 8], "labels": false, "title": null}},
           "y": {"field": "v", "type": "quantitative", "axis": {"orient": "right", "values": [0.1, 0.2, 0.3, 0.4, 0.5, 0.6, 0.7, 0.8, 0.9], "labels": false, "title": null}},
           "color": {"field": "s", "type": "nominal", "legend": null},
           "shape": {"field": "s", "type": "nominal", "scale": {"domain": ["λ=0.5, home", "λ=0.5, foreign", "λ=0.9, home", "λ=0.9, foreign", "λ=0.1, home", "λ=0.1, foreign"], "range": ["M-0.74,-0.74H0.74V0.74H-0.74Z", "M-0.74,-0.74H0.74V0.74H-0.74Z", "M0,-0.96L0.76,0L0,0.96L-0.76,0Z", "M0,-0.96L0.76,0L0,0.96L-0.76,0Z", "M0.84,0A0.84,0.84 0 1,1 -0.84,0A0.84,0.84 0 1,1 0.84,0Z", "M0.84,0A0.84,0.84 0 1,1 -0.84,0A0.84,0.84 0 1,1 0.84,0Z"]}, "legend": null}}}
      ],
      "resolve": {"axis": {"x": "independent", "y": "independent"}}
    },
    {
      "title": "tax rate", "width": 160, "height": 264, "data": {"name": "tax"},
      "layer": [
        {"mark": {"type": "line", "color": "#EDA31C", "strokeWidth": 1.2},
         "encoding": {
           "x": {"field": "t", "type": "quantitative", "scale": {"domain": [1, 8], "nice": false, "zero": false}, "axis": {"values": [2, 4, 6, 8], "title": "years"}},
           "y": {"field": "v", "type": "quantitative", "scale": {"domain": [-1, 1], "nice": false, "zero": false}, "axis": {"values": [-1, -0.8, -0.6, -0.4, -0.2, 0, 0.2, 0.4, 0.6, 0.8, 1], "title": null, "labelExpr": "replace(format(datum.value, '~g'), '\u2212', '-')"}}}},
        {"mark": {"type": "point", "opacity": 0},
         "encoding": {
           "x": {"field": "t", "type": "quantitative", "axis": {"orient": "top", "values": [2, 4, 6, 8], "labels": false, "title": null}},
           "y": {"field": "v", "type": "quantitative", "axis": {"orient": "right", "values": [-1, -0.8, -0.6, -0.4, -0.2, 0, 0.2, 0.4, 0.6, 0.8, 1], "labels": false, "title": null}}}},
        {"data": {"values": []},
         "mark": {"type": "point", "filled": false, "size": 1600, "strokeWidth": 1, "opacity": 1},
         "encoding": {
           "color": {"field": "s", "type": "nominal", "scale": {"domain": ["λ=0.5, home", "λ=0.5, foreign", "λ=0.9, home", "λ=0.9, foreign", "λ=0.1, home", "λ=0.1, foreign"], "range": ["#0072BD", "#D95319", "#7E2F8E", "#77AC30", "#4DBEEE", "#A2142F"]},
             "legend": {"title": null, "orient": "none", "legendX": 29, "legendY": 8, "symbolSize": 1600, "symbolStrokeWidth": 1, "symbolOffset": 2, "clipHeight": 12, "rowPadding": 1.5, "labelFont": "Liberation Sans", "labelFontSize": 11, "labelColor": "#000000", "labelOffset": 5, "padding": 5, "strokeColor": "#262626", "fillColor": "white", "cornerRadius": 0}},
           "shape": {"field": "s", "type": "nominal", "scale": {"domain": ["λ=0.5, home", "λ=0.5, foreign", "λ=0.9, home", "λ=0.9, foreign", "λ=0.1, home", "λ=0.1, foreign"], "range": ["M-0.95,0H-0.18M0.18,0H0.95M-0.18,-0.18H0.18V0.18H-0.18Z", "M-0.95,0H-0.18M0.18,0H0.95M-0.18,-0.18H0.18V0.18H-0.18Z", "M-0.95,0H-0.18M0.18,0H0.95M0,-0.24L0.18,0L0,0.24L-0.18,0Z", "M-0.95,0H-0.18M0.18,0H0.95M0,-0.24L0.18,0L0,0.24L-0.18,0Z", "M-0.95,0H-0.19M0.19,0H0.95M0.19,0A0.19,0.19 0 1,1 -0.19,0A0.19,0.19 0 1,1 0.19,0Z", "M-0.95,0H-0.19M0.19,0H0.95M0.19,0A0.19,0.19 0 1,1 -0.19,0A0.19,0.19 0 1,1 0.19,0Z"]}}}}
      ],
      "resolve": {"axis": {"x": "independent", "y": "independent"}}
    },
    {
      "title": {"text": "nominal interest rate", "offset": -3},
      "width": 160, "height": 264, "data": {"name": "interest"},
      "layer": [
        {"mark": {"type": "line", "strokeWidth": 1},
         "encoding": {
           "x": {"field": "t", "type": "quantitative", "scale": {"domain": [1, 8], "nice": false, "zero": false}, "axis": {"values": [2, 4, 6, 8], "title": "years"}},
           "y": {"field": "v", "type": "quantitative", "scale": {"domain": [0.925, 2.001], "nice": false, "zero": false}, "axis": {"values": [1, 1.1, 1.2, 1.3, 1.4, 1.5, 1.6, 1.7, 1.8, 1.9, 2], "title": null, "labelExpr": "replace(format(datum.value, '~g'), '\u2212', '-')"}},
           "color": {"field": "s", "type": "nominal", "scale": {"domain": ["λ=0.5, home", "λ=0.9, home", "λ=0.1, home"], "range": ["#0072BD", "#D95319", "#EDB120"]}, "legend": null}}},
        {"mark": {"type": "point", "filled": false, "size": 100, "strokeWidth": 1, "opacity": 1},
         "encoding": {
           "x": {"field": "t", "type": "quantitative", "axis": {"orient": "top", "values": [2, 4, 6, 8], "labels": false, "title": null}},
           "y": {"field": "v", "type": "quantitative", "axis": {"orient": "right", "values": [1, 1.1, 1.2, 1.3, 1.4, 1.5, 1.6, 1.7, 1.8, 1.9, 2], "labels": false, "title": null}},
           "color": {"field": "s", "type": "nominal", "legend": null},
           "shape": {"field": "s", "type": "nominal", "scale": {"domain": ["λ=0.5, home", "λ=0.9, home", "λ=0.1, home"], "range": ["M-0.74,-0.74H0.74V0.74H-0.74Z", "M0,-0.96L0.76,0L0,0.96L-0.76,0Z", "M0.84,0A0.84,0.84 0 1,1 -0.84,0A0.84,0.84 0 1,1 0.84,0Z"]}, "legend": null}}},
        {"data": {"values": [{}]},
         "mark": {"type": "text", "text": "×10⁻³", "align": "left", "baseline": "bottom", "dx": 2, "dy": -1, "fontSize": 10, "font": "Liberation Sans", "color": "#555555"},
         "encoding": {
           "x": {"datum": 1, "type": "quantitative", "axis": null},
           "y": {"datum": 2.001, "type": "quantitative", "axis": null}}}
      ],
      "resolve": {"axis": {"x": "independent", "y": "independent"}}
    },
    {
      "title": "cpi price level", "width": 160, "height": 264, "data": {"name": "cpi"},
      "layer": [
        {"mark": {"type": "line", "strokeWidth": 1},
         "encoding": {
           "x": {"field": "t", "type": "quantitative", "scale": {"domain": [1, 8], "nice": false, "zero": false}, "axis": {"values": [2, 4, 6, 8], "title": "years"}},
           "y": {"field": "v", "type": "quantitative", "scale": {"domain": [-0.026, 0.206], "nice": false, "zero": false}, "axis": {"values": [0, 0.05, 0.1, 0.15, 0.2], "title": null, "labelExpr": "replace(format(datum.value, '~g'), '\u2212', '-')"}},
           "color": {"field": "s", "type": "nominal", "scale": {"domain": ["λ=0.5, home", "λ=0.5, foreign", "λ=0.9, home", "λ=0.9, foreign", "λ=0.1, home", "λ=0.1, foreign"], "range": ["#0072BD", "#D95319", "#EDB120", "#7E2F8E", "#77AC30", "#4DBEEE"]}, "legend": null}}},
        {"mark": {"type": "point", "filled": false, "size": 100, "strokeWidth": 1, "opacity": 1},
         "encoding": {
           "x": {"field": "t", "type": "quantitative", "axis": {"orient": "top", "values": [2, 4, 6, 8], "labels": false, "title": null}},
           "y": {"field": "v", "type": "quantitative", "axis": {"orient": "right", "values": [0, 0.05, 0.1, 0.15, 0.2], "labels": false, "title": null}},
           "color": {"field": "s", "type": "nominal", "legend": null},
           "shape": {"field": "s", "type": "nominal", "scale": {"domain": ["λ=0.5, home", "λ=0.5, foreign", "λ=0.9, home", "λ=0.9, foreign", "λ=0.1, home", "λ=0.1, foreign"], "range": ["M-0.74,-0.74H0.74V0.74H-0.74Z", "M-0.74,-0.74H0.74V0.74H-0.74Z", "M0,-0.96L0.76,0L0,0.96L-0.76,0Z", "M0,-0.96L0.76,0L0,0.96L-0.76,0Z", "M0.84,0A0.84,0.84 0 1,1 -0.84,0A0.84,0.84 0 1,1 0.84,0Z", "M0.84,0A0.84,0.84 0 1,1 -0.84,0A0.84,0.84 0 1,1 0.84,0Z"]}, "legend": null}}}
      ],
      "resolve": {"axis": {"x": "independent", "y": "independent"}}
    },
    {
      "title": "investment", "width": 160, "height": 264, "data": {"name": "investment"},
      "layer": [
        {"mark": {"type": "line", "strokeWidth": 1},
         "encoding": {
           "x": {"field": "t", "type": "quantitative", "scale": {"domain": [1, 8], "nice": false, "zero": false}, "axis": {"values": [2, 4, 6, 8], "title": "years"}},
           "y": {"field": "v", "type": "quantitative", "scale": {"domain": [-0.265, 0.955], "nice": false, "zero": false}, "axis": {"values": [-0.2, 0, 0.2, 0.4, 0.6, 0.8], "title": null, "labelExpr": "replace(format(datum.value, '~g'), '\u2212', '-')"}},
           "color": {"field": "s", "type": "nominal", "scale": {"domain": ["λ=0.5, home", "λ=0.5, foreign", "λ=0.9, home", "λ=0.9, foreign", "λ=0.1, home", "λ=0.1, foreign"], "range": ["#0072BD", "#D95319", "#7E2F8E", "#77AC30", "#4DBEEE", "#A2142F"]}, "legend": null}}},
        {"mark": {"type": "point", "filled": false, "size": 100, "strokeWidth": 1, "opacity": 1},
         "encoding": {
           "x": {"field": "t", "type": "quantitative", "axis": {"orient": "top", "values": [2, 4, 6, 8], "labels": false, "title": null}},
           "y": {"field": "v", "type": "quantitative", "axis": {"orient": "right", "values": [-0.2, 0, 0.2, 0.4, 0.6, 0.8], "labels": false, "title": null}},
           "color": {"field": "s", "type": "nominal", "legend": null},
           "shape": {"field": "s", "type": "nominal", "scale": {"domain": ["λ=0.5, home", "λ=0.5, foreign", "λ=0.9, home", "λ=0.9, foreign", "λ=0.1, home", "λ=0.1, foreign"], "range": ["M-0.74,-0.74H0.74V0.74H-0.74Z", "M-0.74,-0.74H0.74V0.74H-0.74Z", "M0,-0.96L0.76,0L0,0.96L-0.76,0Z", "M0,-0.96L0.76,0L0,0.96L-0.76,0Z", "M0.84,0A0.84,0.84 0 1,1 -0.84,0A0.84,0.84 0 1,1 0.84,0Z", "M0.84,0A0.84,0.84 0 1,1 -0.84,0A0.84,0.84 0 1,1 0.84,0Z"]}, "legend": null}}}
      ],
      "resolve": {"axis": {"x": "independent", "y": "independent"}}
    }
  ],
  "config": {
    "font": "Liberation Sans",
    "view": {"stroke": "#262626", "strokeWidth": 1},
    "axis": {"grid": false, "domain": false, "ticks": true, "tickSize": -4, "tickColor": "#262626", "tickWidth": 1, "labelFont": "Liberation Sans", "labelFontSize": 10, "labelColor": "#262626", "labelFlush": false, "labelOverlap": false, "titleFont": "Liberation Sans", "titleFontSize": 17, "titleFontWeight": "normal", "titleColor": "#262626"},
    "axisX": {"labelPadding": 9, "titlePadding": 2},
    "axisY": {"labelPadding": 6},
    "title": {"font": "Liberation Sans", "fontSize": 20, "fontWeight": "bold", "color": "#000000", "offset": 3, "frame": "group"},
    "point": {"opacity": 1}
  }
}
